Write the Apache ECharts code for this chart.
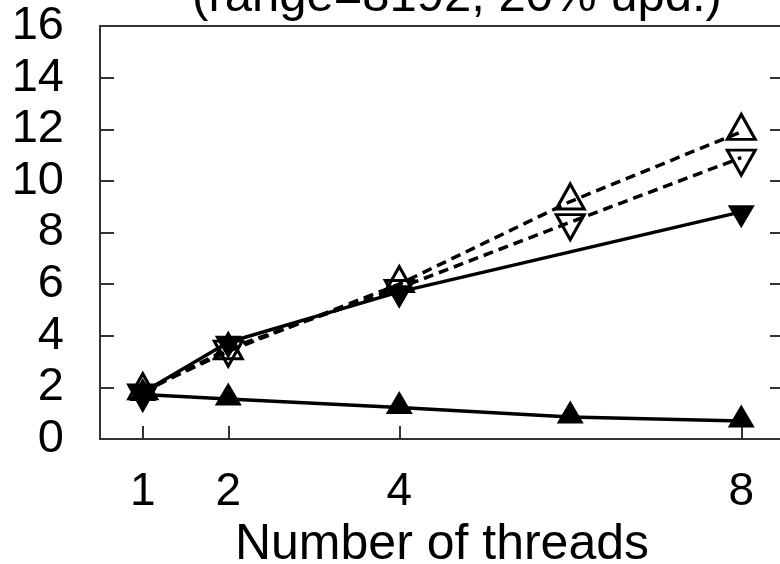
<!DOCTYPE html>
<html>
<head>
<meta charset="utf-8">
<script src="https://cdn.jsdelivr.net/npm/echarts@6/dist/echarts.min.js"></script>
<style>
html,body{margin:0;padding:0;background:#fff;}
#chart{width:780px;height:564px;}
</style>
</head>
<body>
<div id="chart"></div>
<script>
const titleText = "(range=8192, 20% upd.)";
const xAxisName = "Number of threads";
const xTicks = [1, 2, 4, 8];
const yTicks = [0, 2, 4, 6, 8, 10, 12, 14, 16];

const threadsA = [1, 2, 4, 6, 8];
const seriesUpFilled = [1.72, 1.55, 1.22, 0.85, 0.7];

const threadsB = [1, 2, 4, 8];
const seriesDownFilled = [1.8, 3.75, 5.7, 8.8];

const threadsC = [1, 2, 4, 6, 8];
const seriesUpOpen = [1.85, 3.4, 6.0, 9.2, 11.9];

const threadsD = [1, 2, 4, 6, 8];
const seriesDownOpen = [1.8, 3.5, 5.85, 8.4, 10.9];

const pair = (xs, ys) => xs.map((x, i) => [x, ys[i]]);

const FONT = '"Liberation Sans", Arial, Helvetica, sans-serif';
const chart = echarts.init(document.getElementById('chart'), null, {renderer: 'canvas'});

function mkSeries(data, dashed, filled, down) {
  return {
    type: 'line',
    data: data,
    symbol: 'triangle',
    symbolSize: filled ? [27, 23] : [28, 25],
    symbolRotate: down ? 180 : 0,
    symbolOffset: [0, down ? 5 : -5],
    showAllSymbol: true,
    animation: false,
    lineStyle: {color: '#000', width: 3.5, type: dashed ? [10, 6] : 'solid'},
    itemStyle: filled
      ? {color: '#000', borderColor: '#000', borderWidth: 0}
      : {color: 'rgba(0,0,0,0)', borderColor: '#000', borderWidth: 3},
    emphasis: {disabled: true}
  };
}

chart.setOption({
  animation: false,
  backgroundColor: '#fff',
  title: {
    text: titleText,
    left: 452,
    textAlign: 'center',
    top: -32,
    textStyle: {fontFamily: FONT, fontSize: 49, fontWeight: 'normal', color: '#000', lineHeight: 49}
  },
  grid: {
    left: 100, top: 26, width: 684, bottom: 125,
    outerBoundsMode: 'none', containLabel: false,
    show: true, borderColor: '#333', borderWidth: 2, backgroundColor: 'transparent'
  },
  xAxis: {
    type: 'value', min: 0.5, max: 8.5,
    name: xAxisName, nameLocation: 'middle', nameGap: 75,
    nameTextStyle: {fontFamily: FONT, fontSize: 50, color: '#000', lineHeight: 50},
    axisLine: {show: true, lineStyle: {color: '#333', width: 2}},
    axisTick: {show: true, inside: true, length: 13, customValues: xTicks, lineStyle: {color: '#333', width: 2}},
    axisLabel: {show: true, customValues: xTicks, margin: 30, fontFamily: FONT, fontSize: 46, color: '#000', lineHeight: 46},
    splitLine: {show: false}
  },
  yAxis: [{
    type: 'value', min: 0, max: 16, interval: 2,
    axisLine: {show: true, lineStyle: {color: '#333', width: 2}},
    axisTick: {show: true, inside: true, length: 14, lineStyle: {color: '#333', width: 2}},
    axisLabel: {show: true, margin: 36, fontFamily: FONT, fontSize: 47, color: '#000', lineHeight: 47,
      formatter: v => yTicks.includes(v) ? String(v) : ''},
    splitLine: {show: false}
  }, {
    type: 'value', min: 0, max: 16, interval: 2, position: 'right',
    axisLine: {show: true, lineStyle: {color: '#333', width: 2}},
    axisTick: {show: true, inside: true, length: 14, lineStyle: {color: '#333', width: 2}},
    axisLabel: {show: false},
    splitLine: {show: false}
  }],
  series: [
    mkSeries(pair(threadsA, seriesUpFilled), false, true, false),
    mkSeries(pair(threadsB, seriesDownFilled), false, true, true),
    mkSeries(pair(threadsC, seriesUpOpen), true, false, false),
    mkSeries(pair(threadsD, seriesDownOpen), true, false, true)
  ]
});
</script>
</body>
</html>
